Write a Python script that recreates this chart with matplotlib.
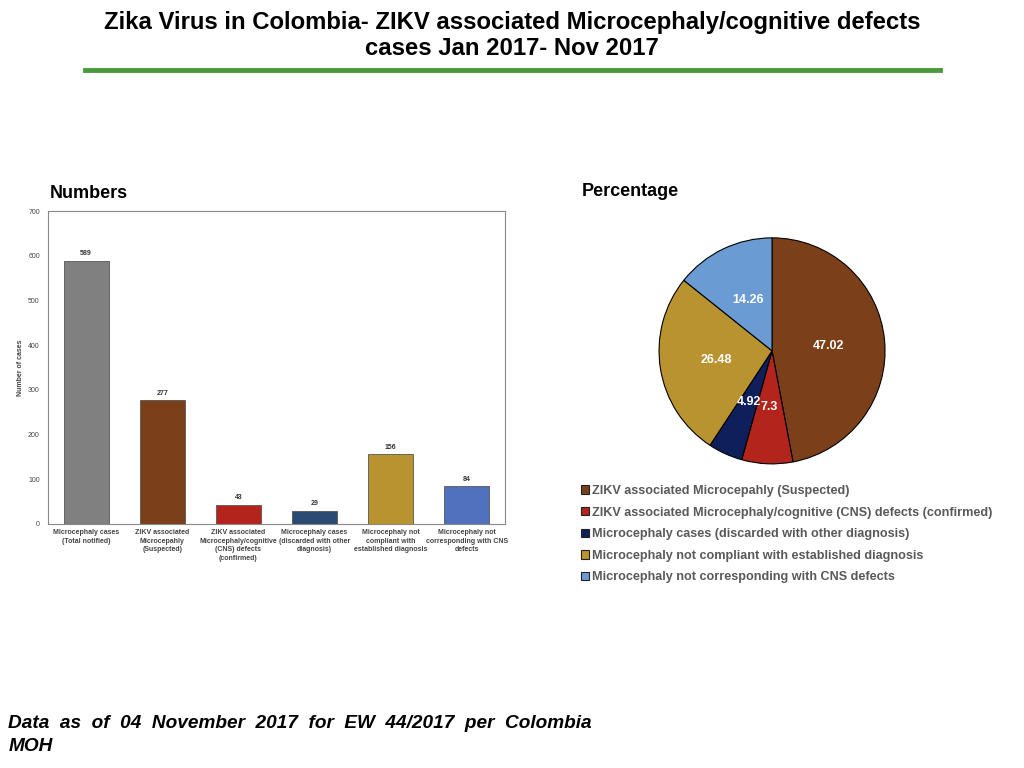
import matplotlib
matplotlib.use('Agg')
import matplotlib.pyplot as plt
from matplotlib.patches import Patch
from matplotlib.lines import Line2D

plt.rcParams['font.family'] = ['Liberation Sans', 'DejaVu Sans']

# bar chart data
bar_labels = ['Microcephaly cases\n(Total notified)',
              'ZIKV associated\nMicrocepahly\n(Suspected)',
              'ZIKV associated\nMicrocephaly/cognitive\n(CNS) defects\n(confirmed)',
              'Microcephaly cases\n(discarded with other\ndiagnosis)',
              'Microcephaly not\ncompliant with\nestablished diagnosis',
              'Microcephaly not\ncorresponding with CNS\ndefects']
bar_values = [589, 277, 43, 29, 156, 84]
bar_colors = ['#808080', '#7B3F1A', '#B3241C', '#2B4A74', '#B8932F', '#4F71BE']

# pie chart data
pie_labels = ['ZIKV associated Microcepahly (Suspected)',
              'ZIKV associated Microcephaly/cognitive (CNS) defects (confirmed)',
              'Microcephaly cases (discarded with other diagnosis)',
              'Microcephaly not compliant with established diagnosis',
              'Microcephaly not corresponding with CNS defects']
pie_values = [47.02, 7.3, 4.92, 26.48, 14.26]
pie_text = ['47.02', '7.3', '4.92', '26.48', '14.26']
pie_colors = ['#7B3F1A', '#B3241C', '#0F1F5C', '#B8932F', '#6A9BD2']

fig = plt.figure(figsize=(10.24, 7.68), dpi=100)

# title + green rule
fig.text(0.5, 0.986, 'Zika Virus in Colombia- ZIKV associated Microcephaly/cognitive defects\ncases Jan 2017- Nov 2017',
         ha='center', va='top', fontsize=17.2, fontweight='bold', linespacing=1.2)
fig.add_artist(Line2D([0.083, 0.918], [0.909, 0.909], color='#4A9A3A', lw=3.5))

fig.text(0.049, 0.748, 'Numbers', fontsize=13, fontweight='bold', va='center')
fig.text(0.568, 0.751, 'Percentage', fontsize=13, fontweight='bold', va='center')

# bars
ax = fig.add_axes([0.047, 0.318, 0.446, 0.407])
x = range(len(bar_values))
bars = ax.bar(x, bar_values, width=0.59, color=bar_colors, edgecolor='#555555', linewidth=0.6)
for b, v in zip(bars, bar_values):
    ax.text(b.get_x() + b.get_width() / 2, v + 8, str(v), ha='center', va='bottom',
            fontsize=5, fontweight='bold', color='#333333')
ax.set_xlim(-0.5, len(bar_values) - 0.5)
ax.set_ylim(0, 700)
ax.set_yticks(range(0, 701, 100))
ax.tick_params(axis='y', labelsize=5, length=0, pad=6, labelcolor='#444444')
ax.set_xticks(list(x))
ax.set_xticklabels(bar_labels, fontsize=5, fontweight='bold', color='#444444', linespacing=1.3)
ax.tick_params(axis='x', length=0, pad=4)
ax.set_ylabel('Number of cases', fontsize=5, fontweight='bold', color='#444444', labelpad=3)
for s in ax.spines.values():
    s.set_color('#888888')
    s.set_linewidth(0.8)

# pie
axp = fig.add_axes([0.6436, 0.396, 0.2207, 0.2943])
wedges, texts, autotexts = axp.pie(pie_values, colors=pie_colors, startangle=90, counterclock=False,
                                   autopct=lambda p: '', pctdistance=0.5,
                                   wedgeprops=dict(edgecolor='black', linewidth=0.8))
for t, s in zip(autotexts, pie_text):
    t.set_text(s)
    t.set_color('white')
    t.set_fontsize(9)
    t.set_fontweight('bold')
axp.set_xlim(-1.0, 1.0)
axp.set_ylim(-1.0, 1.0)
axp.set_aspect('equal')

handles = [Patch(facecolor=c, edgecolor='#222222', linewidth=0.8) for c in pie_colors]
leg = fig.legend(handles, pie_labels, loc='upper left', bbox_to_anchor=(0.562, 0.375),
                 frameon=False, fontsize=9.1, handlelength=0.65, handleheight=0.65,
                 handletextpad=0.25, labelspacing=0.76, borderaxespad=0)
for t in leg.get_texts():
    t.set_color('#595959')
    t.set_fontweight('bold')

fig.text(0.008, 0.017, 'Data  as  of  04  November  2017  for  EW  44/2017  per  Colombia\nMOH',
         fontsize=13.7, fontweight='bold', style='italic', va='bottom', linespacing=1.45)

fig.savefig('out.png', dpi=100)
